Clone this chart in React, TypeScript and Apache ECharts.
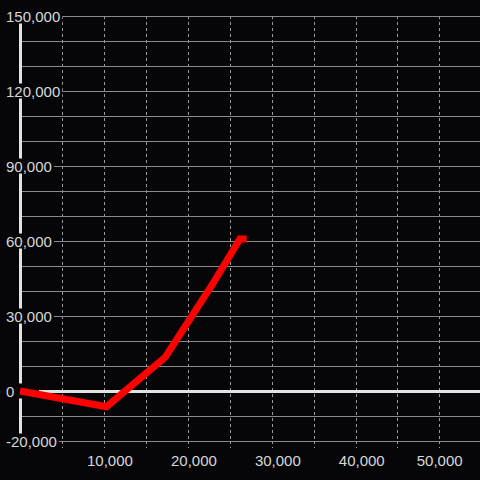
import React, { useEffect, useRef } from "react";
import * as echarts from "echarts";

// Series data: [x, y]
const xValues = [0, 10300, 17300, 22800, 26200, 27000];
const yValues = [0, -6300, 13500, 42000, 60800, 60800];

// Axis settings
const xMin = 0;
const xMax = 54800;
const xInterval = 5000;
const xLabelValues = [10000, 20000, 30000, 40000, 50000];

const yMin = -20000;
const yMax = 150000;
const yInterval = 10000;
const yLabelValues = [150000, 120000, 90000, 60000, 30000, 0, -20000];

const BG = "#060608";
const TEXT = "#d8d8d8";
const FONT = "'Liberation Sans', Arial, sans-serif";

const fmt = (v: number) => v.toLocaleString("en-US");

export default function App() {
  const ref = useRef<HTMLDivElement>(null);

  useEffect(() => {
    if (!ref.current) return;
    const chart = echarts.init(ref.current, undefined, { renderer: "svg" });

    const ySplitCount = Math.round((yMax - yMin) / yInterval) + 1;
    const ySplitColors: string[] = [];
    for (let i = 0; i < ySplitCount; i++) {
      const v = yMin + i * yInterval;
      ySplitColors.push(v === 0 ? "rgba(0,0,0,0)" : "#8a8a8a");
    }

    const data = xValues.map((x, i) => [x, yValues[i]]);

    chart.setOption({
      animation: false,
      backgroundColor: BG,
      grid: { left: 20, right: 0, top: 16, bottom: 39, containLabel: false },
      xAxis: [
        {
          type: "value",
          position: "bottom",
          min: xMin,
          max: xMax,
          interval: xInterval,
          z: 0,
          axisLine: { show: false, onZero: false },
          axisTick: {
            show: true,
            inside: false,
            length: 7,
            lineStyle: { color: "#9a9a9a", width: 1, type: [3, 3] },
          },
          splitLine: {
            show: true,
            lineStyle: { color: "#9a9a9a", width: 1, type: [3, 3] },
          },
          axisLabel: {
            show: true,
            margin: 12,
            color: TEXT,
            fontSize: 15,
            fontFamily: FONT,
            lineHeight: 15,
            showMaxLabel: false,
            formatter: (v: number) => {
              if (!xLabelValues.includes(v)) return "";
              return v === xLabelValues[xLabelValues.length - 1]
                ? `{b|${fmt(v)}}`
                : `{a|${fmt(v)}}`;
            },
            rich: {
              a: { padding: [0, 0, 0, 12], color: TEXT, fontSize: 15, fontFamily: FONT, lineHeight: 15 },
              b: { color: TEXT, fontSize: 15, fontFamily: FONT, lineHeight: 15 },
            },
          },
        },
        {
          type: "value",
          position: "top",
          min: xMin,
          max: xMax,
          interval: xInterval,
          z: 0,
          axisLine: { show: true, onZero: true, lineStyle: { color: "#e2e2e2", width: 3 } },
          axisTick: { show: false },
          axisLabel: { show: false },
          splitLine: { show: false },
        },
      ],
      yAxis: {
        type: "value",
        min: yMin,
        max: yMax,
        interval: yInterval,
        z: 2,
        axisLine: { show: true, onZero: false, lineStyle: { color: "#e2e2e2", width: 3 } },
        axisTick: { show: false },
        splitLine: { show: true, lineStyle: { color: ySplitColors, width: 1 } },
        axisLabel: {
          show: true,
          align: "left",
          margin: 16,
          color: TEXT,
          fontSize: 15,
          fontFamily: FONT,
          lineHeight: 14,
          backgroundColor: BG,
          padding: [0, 2, 0, 2],
          formatter: (v: number) => {
            if (!yLabelValues.includes(v)) return "";
            return v === 0 ? `{z|${fmt(v)}}` : `{n|${fmt(v)}}`;
          },
          rich: {
            n: { color: TEXT, fontSize: 15, fontFamily: FONT, lineHeight: 14, backgroundColor: BG },
            z: {
              color: TEXT,
              fontSize: 15,
              fontFamily: FONT,
              lineHeight: 14,
              width: 31,
              align: "left",
              backgroundColor: BG,
            },
          },
        },
      },
      series: [
        {
          type: "line",
          xAxisIndex: 0,
          yAxisIndex: 0,
          data,
          z: 3,
          symbol: "none",
          showSymbol: false,
          smooth: false,
          lineStyle: { color: "#ff0000", width: 7, cap: "butt", join: "miter" },
        },
      ],
    });

    return () => chart.dispose();
  }, []);

  return (
    <div
      ref={ref}
      style={{ position: "fixed", left: 0, top: 0, width: 480, height: 480 }}
    />
  );
}
